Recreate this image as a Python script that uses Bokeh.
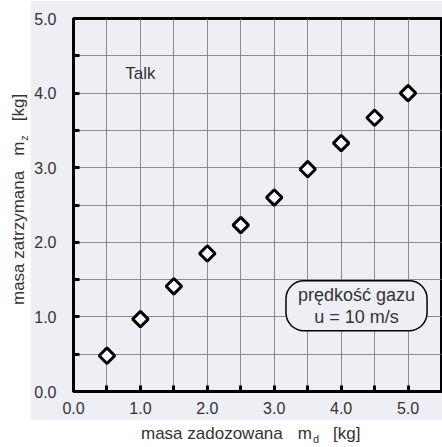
import math
from bokeh.plotting import figure
from bokeh.models import Range1d, FixedTicker, Label, Div
from bokeh.layouts import row, column
from bokeh.embed import file_html
from bokeh.resources import INLINE

# ---- data ----
masa_zadozowana = [0.5, 1.0, 1.5, 2.0, 2.5, 3.0, 3.5, 4.0, 4.5, 5.0]
masa_zatrzymana = [0.48, 0.97, 1.41, 1.85, 2.23, 2.60, 2.98, 3.33, 3.67, 4.00]
x_ticks = [0.0, 0.5, 1.0, 1.5, 2.0, 2.5, 3.0, 3.5, 4.0, 4.5, 5.0, 5.5]
y_ticks = [0.0, 0.5, 1.0, 1.5, 2.0, 2.5, 3.0, 3.5, 4.0, 4.5, 5.0]
x_tick_labels = {0.0: "0.0", 1.0: "1.0", 2.0: "2.0", 3.0: "3.0", 4.0: "4.0", 5.0: "5.0"}
y_tick_labels = {0.0: "0.0", 1.0: "1.0", 2.0: "2.0", 3.0: "3.0", 4.0: "4.0", 5.0: "5.0"}
x_title = ("masa zadozowana", "m", "d", "[kg]")
y_title = ("masa zatrzymana", "m", "z", "[kg]")

BG = "#eeeff4"
TXT = "#333333"
FONT = "Liberation Sans"

p = figure(width=412, height=420, output_backend="svg", toolbar_location=None,
           title=None, x_range=Range1d(0, 5.5), y_range=Range1d(0, 5.0),
           min_border_left=43, min_border_right=1, min_border_top=18, min_border_bottom=29)
p.background_fill_color = BG
p.border_fill_color = BG
p.outline_line_color = "black"
p.outline_line_width = 3

xt = FixedTicker(ticks=x_ticks)
yt = FixedTicker(ticks=y_ticks)
p.xaxis.ticker = xt
p.yaxis.ticker = yt
p.xgrid.ticker = xt
p.ygrid.ticker = yt
for g in (p.xgrid, p.ygrid):
    g.grid_line_color = "#7a7a7a"
    g.grid_line_width = 1
    g.grid_line_alpha = 0.85

p.xaxis.major_label_overrides = {t: x_tick_labels.get(t, "") for t in x_ticks}
p.yaxis.major_label_overrides = {t: y_tick_labels.get(t, "") for t in y_ticks}
for ax in (p.xaxis, p.yaxis):
    ax.axis_line_width = 3
    ax.axis_line_color = "black"
    ax.major_tick_in = 6
    ax.major_tick_out = 0
    ax.major_tick_line_width = 3
    ax.minor_tick_line_color = None
    ax.major_label_text_font = FONT
    ax.major_label_text_font_size = "16px"
    ax.major_label_text_color = TXT
p.xaxis.major_label_standoff = 10
p.yaxis.major_label_standoff = 17

p.scatter(masa_zadozowana, masa_zatrzymana, marker="square", angle=math.pi / 4,
          size=11, line_width=3, line_color="black", fill_color="white")

p.add_layout(Label(x=1.0, y=4.26, text="Talk", text_align="center", text_baseline="middle",
                   text_font=FONT, text_font_size="17px", text_color=TXT))
p.add_layout(Label(x=4.23, y=1.15, text="prędkość gazu\nu = 10 m/s",
                   text_align="center", text_baseline="middle",
                   text_font=FONT, text_font_size="18px", text_color=TXT,
                   text_line_height=1.1,
                   background_fill_color=BG, border_line_color="black",
                   border_line_width=1.5, border_radius=18, padding=(12, 4)))

def title_html(parts):
    main, sym, sub, unit = parts
    return ('%s<span style="margin-left:15px">%s</span>'
            '<span style="font-size:11px;vertical-align:-4px;margin-left:1px">%s</span>'
            '<span style="margin-left:14px">%s</span>') % (main, sym, sub, unit)

base_css = ("white-space:nowrap;font-family:'%s';font-size:17px;color:%s;"
            "line-height:20px;box-sizing:border-box;") % (FONT, TXT)

xdiv = Div(width=412, height=27, margin=0,
           text='<div style="%spadding-left:111px;padding-top:4px;">%s</div>'
                % (base_css, title_html(x_title)))
ydiv = Div(width=30, height=447, margin=0,
           text=('<div style="%sposition:absolute;left:0;top:0;width:447px;height:30px;'
                 'transform-origin:0 0;transform:translate(0px,447px) rotate(-90deg);'
                 'padding-left:142px;padding-top:9px;">%s</div>')
                % (base_css, title_html(y_title)))

layout = row(ydiv, column(p, xdiv, spacing=0), spacing=0)

html = file_html(layout, INLINE)
html = html.replace("<body>", '<body style="background-color:%s;">' % BG, 1)
open("out.html", "w").write(html)
